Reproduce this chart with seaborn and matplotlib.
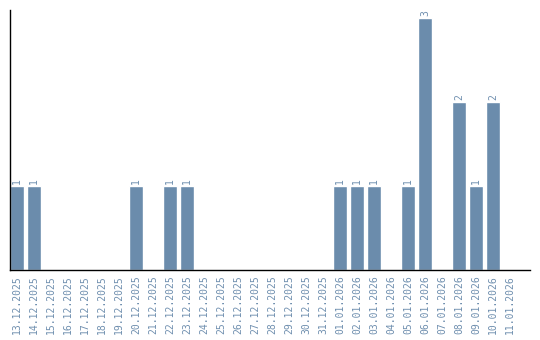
import matplotlib
matplotlib.use("Agg")
import matplotlib.pyplot as plt
import seaborn as sns
import pandas as pd

dates = ["13.12.2025", "14.12.2025", "15.12.2025", "16.12.2025", "17.12.2025", "18.12.2025",
         "19.12.2025", "20.12.2025", "21.12.2025", "22.12.2025", "23.12.2025", "24.12.2025",
         "25.12.2025", "26.12.2025", "27.12.2025", "28.12.2025", "29.12.2025", "30.12.2025",
         "31.12.2025", "01.01.2026", "02.01.2026", "03.01.2026", "04.01.2026", "05.01.2026",
         "06.01.2026", "07.01.2026", "08.01.2026", "09.01.2026", "10.01.2026", "11.01.2026"]
counts = [1, 1, 0, 0, 0, 0, 0, 1, 0, 1, 1, 0, 0, 0, 0, 0, 0, 0, 0, 1, 1, 1, 0, 1, 3, 0, 2, 1, 2, 0]

df = pd.DataFrame({"date": dates, "count": counts})

sns.set_style("white")
plt.rcParams["font.family"] = ["DejaVu Sans Mono"]
fig = plt.figure(figsize=(5.4, 3.4), dpi=100)
ax = fig.add_axes([10/540, 1-270/340, 520/540, 260/340])

bar_color = "#6b8cac"
text_color = "#6f8faf"
sns.barplot(data=df, x="date", y="count", color=bar_color, width=0.84, ax=ax,
            saturation=1, order=dates)

for i, v in enumerate(counts):
    if v > 0:
        ax.text(i, v + 0.02, str(v), rotation=90, ha="center", va="bottom",
                fontsize=7, color=text_color)

ax.set_xlim(-0.42, 30.17)
ax.set_ylim(0, 260/84)
ax.set_xlabel("")
ax.set_ylabel("")
ax.set_yticks([])
ax.tick_params(axis="x", length=0, pad=4, labelsize=7, labelcolor=text_color, rotation=90)
for s in ["top", "right"]:
    ax.spines[s].set_visible(False)
ax.spines["left"].set_color("black")
ax.spines["bottom"].set_color("black")
ax.spines["left"].set_linewidth(1)
ax.spines["bottom"].set_linewidth(1)

fig.savefig("out.png", dpi=100)
